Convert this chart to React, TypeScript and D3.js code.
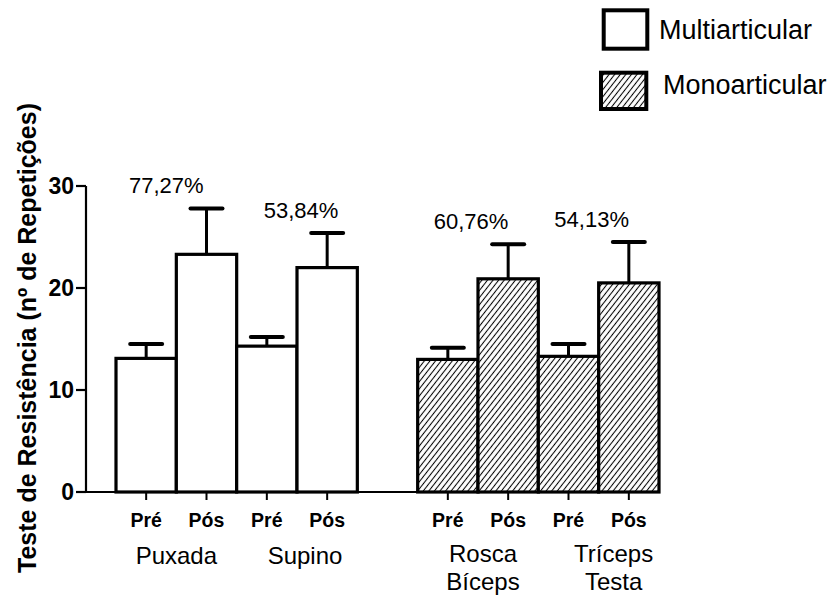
import React from "react";
import * as d3 from "d3";

const exercises = ["Puxada", "Supino", "Rosca Bíceps", "Tríceps Testa"];
const exerciseLines = [["Puxada"], ["Supino"], ["Rosca", "Bíceps"], ["Tríceps", "Testa"]];
const exerciseType = ["Multiarticular", "Multiarticular", "Monoarticular", "Monoarticular"];
const phases = ["Pré", "Pós"];
const preMean = [13.1, 14.3, 13.0, 13.3];
const preSd = [1.4, 0.9, 1.15, 1.2];
const posMean = [23.3, 22.0, 20.9, 20.5];
const posSd = [4.5, 3.4, 3.4, 4.0];
const percentLabels = ["77,27%", "53,84%", "60,76%", "54,13%"];
const yTicks = [0, 10, 20, 30];
const legendItems = ["Multiarticular", "Monoarticular"];
const yTitle = "Teste de Resistência (nº de Repetições)";

// layout-only adjustments (not data)
const groupLabelDx = [0, 8, 5, 15];
const percentDx = [-10, 4, -7, -7];

const FONT = "'Liberation Sans', Arial, Helvetica, sans-serif";

export default function App() {
  const W = 837, H = 596;
  const y = d3.scaleLinear().domain([0, 30]).range([492, 186]);
  // 9 slots: 4 bars, gap, 4 bars
  const slots: string[] = [];
  exercises.forEach((e, i) => {
    phases.forEach((p) => slots.push(`${e}|${p}`));
    if (i === 1) slots.push("gap");
  });
  const x = d3.scaleBand().domain(slots).range([116, 659]).padding(0);
  const bw = x.bandwidth();

  const bars = exercises.flatMap((e, i) => [
    { key: `${e}|Pré`, phase: "Pré", mean: preMean[i], sd: preSd[i], type: exerciseType[i] },
    { key: `${e}|Pós`, phase: "Pós", mean: posMean[i], sd: posSd[i], type: exerciseType[i] },
  ]);

  const fillFor = (t: string) => (t === "Monoarticular" ? "url(#hatch)" : "white");

  return (
    <svg width={W} height={H} style={{ position: "absolute", left: 0, top: 0, background: "white" }} fontFamily={FONT}>
      <defs>
        <pattern id="hatch" patternUnits="userSpaceOnUse" width={4.4} height={10} patternTransform="rotate(38)">
          <rect width={4.4} height={10} fill="white" />
          <line x1={2.2} y1={-1} x2={2.2} y2={11} stroke="black" strokeWidth={1.05} />
        </pattern>
      </defs>

      {/* Y axis */}
      <line x1={86} x2={86} y1={y(30)} y2={y(0) + 1} stroke="black" strokeWidth={2.2} />
      {yTicks.map((t) => (
        <g key={t}>
          <line x1={76} x2={86} y1={y(t)} y2={y(t)} stroke="black" strokeWidth={2.2} />
          <text x={74} y={y(t)} dy="0.36em" textAnchor="end" fontWeight="bold" fontSize={23}>{t}</text>
        </g>
      ))}
      <text
        transform={`translate(36, 338) rotate(-90)`}
        textAnchor="middle"
        fontWeight="bold"
        fontSize={25}
      >{yTitle}</text>

      {/* X axis */}
      <line x1={85} x2={659} y1={y(0)} y2={y(0)} stroke="black" strokeWidth={2.2} />

      {/* Bars */}
      {bars.map((b) => {
        const x0 = x(b.key)!;
        const cx = x0 + bw / 2;
        const top = y(b.mean);
        const cap = y(b.mean + b.sd);
        return (
          <g key={b.key}>
            <line x1={cx} x2={cx} y1={top} y2={cap} stroke="black" strokeWidth={3} />
            <line x1={cx - 16} x2={cx + 16} y1={cap} y2={cap} stroke="black" strokeWidth={4} strokeLinecap="round" />
            <rect x={x0} y={top} width={bw} height={y(0) - top} fill={fillFor(b.type)} stroke="black" strokeWidth={3.2} />
            <line x1={cx} x2={cx} y1={y(0)} y2={y(0) + 8} stroke="black" strokeWidth={2} />
            <text x={cx} y={527} textAnchor="middle" fontWeight="bold" fontSize={19.5}>{b.phase}</text>
          </g>
        );
      })}

      {/* percent labels */}
      {exercises.map((e, i) => {
        const mid = (x(`${e}|Pré`)! + x(`${e}|Pós`)! + bw) / 2;
        return (
          <text key={e} x={mid + percentDx[i]} y={y(posMean[i] + posSd[i]) - 15} textAnchor="middle" fontSize={22}>
            {percentLabels[i]}
          </text>
        );
      })}

      {/* group labels */}
      {exercises.map((e, i) => {
        const mid = (x(`${e}|Pré`)! + x(`${e}|Pós`)! + bw) / 2;
        const lines = exerciseLines[i];
        return (
          <text key={e} x={mid + groupLabelDx[i]} textAnchor="middle" fontSize={24}>
            {lines.map((l, j) => (
              <tspan key={l} x={mid + groupLabelDx[i]} y={(lines.length > 1 ? 562 : 564) + j * 28}>{l}</tspan>
            ))}
          </text>
        );
      })}

      {/* Legend */}
      <rect x={603.7} y={10.3} width={43.6} height={38.4} fill="white" stroke="black" strokeWidth={4} />
      <text x={659} y={39} fontSize={27}>{legendItems[0]}</text>
      <rect x={601} y={72.7} width={45.3} height={36.3} fill="url(#hatch)" stroke="black" strokeWidth={4} />
      <text x={663} y={94} fontSize={27}>{legendItems[1]}</text>
    </svg>
  );
}
